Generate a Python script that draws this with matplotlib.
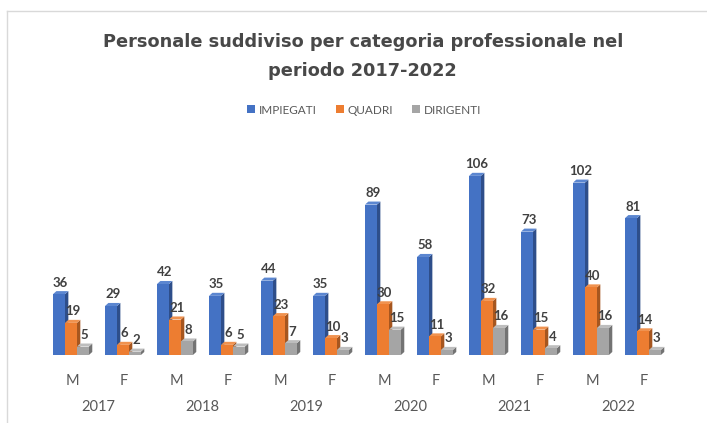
import matplotlib.pyplot as plt
from matplotlib.patches import Patch, Polygon
from matplotlib.lines import Line2D
import matplotlib.transforms as mtransforms

years = ["2017", "2018", "2019", "2020", "2021", "2022"]
sexes = ["M", "F"]
impiegati = [36, 29, 42, 35, 44, 35, 89, 58, 106, 73, 102, 81]
quadri = [19, 6, 21, 6, 23, 10, 30, 11, 32, 15, 40, 14]
dirigenti = [5, 2, 8, 5, 7, 3, 15, 3, 16, 4, 16, 3]
series_names = ["IMPIEGATI", "QUADRI", "DIRIGENTI"]

front = ["#4472C4", "#ED7D31", "#A5A5A5"]
side = ["#2E4E8A", "#A6561F", "#737373"]
top = ["#5B86D0", "#F0924F", "#BDBDBD"]

fig = plt.figure(figsize=(7.07, 4.23), dpi=100)
W, H = 707, 423
ax = fig.add_axes([46 / W, 68 / H, 624 / W, 205 / H])
ax.set_xlim(-0.5, 11.5)
ax.set_ylim(0, 205 / 1.69)

w = 0.23       # front width
dx = 0.065     # depth offset x
dy = 1.8       # depth offset y
offsets = [-w, 0, w]

for s, vals in enumerate([impiegati, quadri, dirigenti]):
    for i, v in enumerate(vals):
        x0 = i + offsets[s] - w / 2 - 0.02
        x1 = x0 + w
        # side face
        ax.add_patch(Polygon([(x1, 0), (x1 + dx, dy), (x1 + dx, v + dy), (x1, v)],
                             closed=True, facecolor=side[s], edgecolor="none", zorder=2 + s))
        # top face
        ax.add_patch(Polygon([(x0, v), (x0 + dx, v + dy), (x1 + dx, v + dy), (x1, v)],
                             closed=True, facecolor=top[s], edgecolor="none", zorder=2 + s))
        ax.bar(x0, v, width=w, align="edge", color=front[s], zorder=2 + s)
        ax.text(x0 + (w + dx) / 2, v + dy + 1.5, str(v), ha="center", va="bottom",
                fontsize=9.5, fontweight="bold", color="#404040", family="Lato", zorder=10)

for sp in ax.spines.values():
    sp.set_visible(False)
ax.set_yticks([])
ax.set_xticks(range(12))
ax.set_xticklabels(sexes * len(years), fontsize=10.5, color="#595959", family="Lato")
ax.tick_params(axis="x", length=0, pad=14)

trans = mtransforms.blended_transform_factory(ax.transData, fig.transFigure)
for k, yr in enumerate(years):
    ax.text(2 * k + 0.5, 1 - 407 / H, yr, ha="center", va="center", fontsize=10.5,
            color="#595959", family="Lato", transform=trans)

fig.text(0.513, 1 - 42 / H, "Personale suddiviso per categoria professionale nel",
         ha="center", va="center", fontsize=12.8, fontweight="bold", color="#484848", family="DejaVu Sans")
fig.text(0.513, 1 - 71 / H, "periodo 2017-2022",
         ha="center", va="center", fontsize=12.8, fontweight="bold", color="#484848", family="DejaVu Sans")

handles = [Patch(facecolor=c, edgecolor="none") for c in front]
leg = fig.legend(handles, series_names, loc="center", bbox_to_anchor=(0.515, 1 - 110 / H), ncol=3,
                 frameon=False, handlelength=0.7, handleheight=0.7,
                 handletextpad=0.3, columnspacing=1.6, prop={"family": "Lato", "size": 8.5})
for t in leg.get_texts():
    t.set_color("#595959")

# chart frame
fig.add_artist(Line2D([7 / W, 1], [1 - 11 / H, 1 - 11 / H], color="#D9D9D9", lw=1))
fig.add_artist(Line2D([7 / W, 7 / W], [0, 1 - 11 / H], color="#D9D9D9", lw=1))

fig.savefig("out.png", dpi=100)
